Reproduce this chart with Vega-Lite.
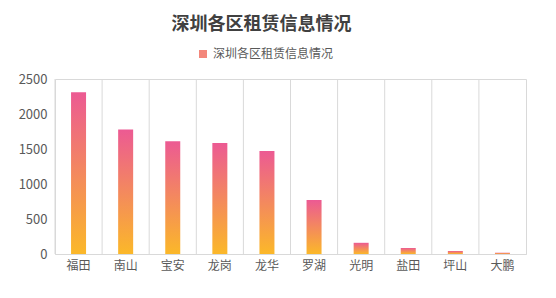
{
  "$schema": "https://vega.github.io/schema/vega-lite/v6.json",
  "width": 471,
  "height": 175,
  "autosize": "none",
  "padding": {"left": 55, "top": 79, "right": 30, "bottom": 44},
  "background": "white",
  "title": {
    "text": "深圳各区租赁信息情况",
    "font": "Noto Sans CJK SC",
    "fontSize": 18,
    "fontWeight": "bold",
    "color": "#404040",
    "anchor": "middle",
    "dx": -29,
    "offset": 14
  },
  "data": {
    "values": [
      {"区": "福田", "数量": 2310, "series": "深圳各区租赁信息情况"},
      {"区": "南山", "数量": 1780, "series": "深圳各区租赁信息情况"},
      {"区": "宝安", "数量": 1610, "series": "深圳各区租赁信息情况"},
      {"区": "龙岗", "数量": 1585, "series": "深圳各区租赁信息情况"},
      {"区": "龙华", "数量": 1470, "series": "深圳各区租赁信息情况"},
      {"区": "罗湖", "数量": 770, "series": "深圳各区租赁信息情况"},
      {"区": "光明", "数量": 160, "series": "深圳各区租赁信息情况"},
      {"区": "盐田", "数量": 86, "series": "深圳各区租赁信息情况"},
      {"区": "坪山", "数量": 43, "series": "深圳各区租赁信息情况"},
      {"区": "大鹏", "数量": 18, "series": "深圳各区租赁信息情况"}
    ]
  },
  "config": {
    "view": {"stroke": "#d9d9d9", "strokeWidth": 1},
    "font": "Noto Sans CJK SC"
  },
  "layer": [
    {
      "mark": {"type": "rule", "color": "#d9d9d9", "strokeWidth": 1},
      "encoding": {
        "x": {"field": "区", "type": "nominal", "sort": null, "bandPosition": 0}
      }
    },
    {
      "mark": {
        "type": "bar",
        "width": 15,
        "color": {
          "gradient": "linear",
          "x1": 0, "y1": 0, "x2": 0, "y2": 1,
          "stops": [
            {"offset": 0, "color": "#ec5a93"},
            {"offset": 1, "color": "#fbb829"}
          ]
        }
      },
      "encoding": {
        "x": {
          "field": "区",
          "type": "nominal",
          "sort": null,
          "scale": {"paddingInner": 0, "paddingOuter": 0},
          "axis": {
            "title": null,
            "labelAngle": 0,
            "labelAlign": "center",
            "bandPosition": 0.5,
            "labelFontSize": 12,
            "labelColor": "#595959",
            "labelPadding": 11,
            "ticks": false,
            "domainColor": "#d9d9d9",
            "grid": false
          }
        },
        "y": {
          "field": "数量",
          "type": "quantitative",
          "scale": {"domain": [0, 2500]},
          "axis": {
            "title": null,
            "values": [0, 500, 1000, 1500, 2000, 2500],
            "tickCount": 6,
            "format": "d",
            "labelOverlap": false,
            "labelFontSize": 13,
            "labelColor": "#595959",
            "labelPadding": 8,
            "ticks": false,
            "domain": false,
            "grid": false
          }
        }
      }
    },
    {
      "mark": {"type": "square", "size": 0, "opacity": 0, "filled": true},
      "encoding": {
        "color": {
          "field": "series",
          "type": "nominal",
          "scale": {"range": ["#f3877b"]},
          "legend": {
            "title": null,
            "orient": "none",
            "legendX": 142,
            "legendY": -31,
            "symbolType": "square",
            "symbolSize": 64,
            "labelFontSize": 12,
            "labelColor": "#595959",
            "labelOffset": 4,
            "symbolOpacity": 1,
            "symbolStrokeWidth": 0
          }
        }
      }
    }
  ]
}
